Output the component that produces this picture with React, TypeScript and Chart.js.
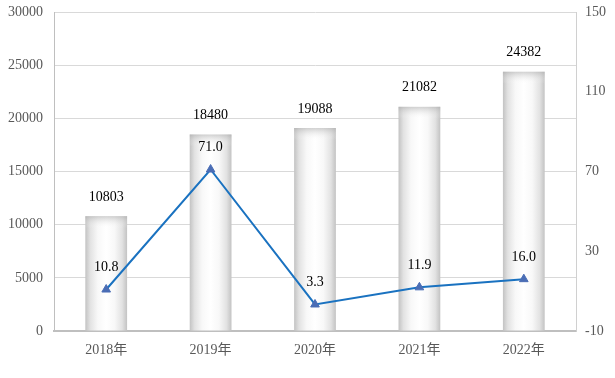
import React, { useEffect, useRef } from "react";
import { Chart, registerables } from "chart.js";

Chart.register(...registerables);

const categories = ["2018年", "2019年", "2020年", "2021年", "2022年"];
const barValues = [10803, 18480, 19088, 21082, 24382];
const lineValues = [10.8, 71.0, 3.3, 11.9, 16.0];
const barLabels = ["10803", "18480", "19088", "21082", "24382"];
const lineLabels = ["10.8", "71.0", "3.3", "11.9", "16.0"];

const FONT = "'Liberation Serif', 'Times New Roman', 'Noto Sans CJK SC', serif";

const labelPlugin = {
  id: "valueLabels",
  afterDatasetDraw(chart: any, args: any) {
    if (args.index !== 1) return;
    const ctx = chart.ctx;
    ctx.save();
    args.meta.data.forEach((el: any) => {
      const half = el.width / 2;
      const top = el.y;
      const g = ctx.createLinearGradient(0, top, 0, top + 12);
      g.addColorStop(0, "rgba(170,170,170,0.55)");
      g.addColorStop(1, "rgba(255,255,255,0)");
      ctx.fillStyle = g;
      ctx.fillRect(el.x - half, top, el.width, 12);
    });
    ctx.restore();
  },
  afterDatasetsDraw(chart: any) {
    const ctx = chart.ctx;
    ctx.save();
    ctx.font = `14px ${FONT}`;
    ctx.fillStyle = "#000000";
    ctx.textAlign = "center";
    ctx.textBaseline = "middle";
    const barMeta = chart.getDatasetMeta(1);
    barMeta.data.forEach((el: any, i: number) => {
      ctx.fillText(barLabels[i], el.x, el.y - 19);
    });
    const lineMeta = chart.getDatasetMeta(0);
    lineMeta.data.forEach((el: any, i: number) => {
      ctx.fillText(lineLabels[i], el.x, el.y - 22);
    });
    ctx.restore();
  },
};

export default function App() {
  const ref = useRef<HTMLCanvasElement>(null);
  useEffect(() => {
    document.body.style.margin = "0";
    const canvas = ref.current!;
    const barGradient = (context: any) => {
      const chart = context.chart;
      const xs = chart.scales?.x;
      if (!xs || context.dataIndex === undefined) return "#f0f0f0";
      const cx = xs.getPixelForValue(context.dataIndex);
      if (!Number.isFinite(cx)) return "#f0f0f0";
      const half = 21;
      const g = chart.ctx.createLinearGradient(cx - half, 0, cx + half, 0);
      g.addColorStop(0, "#c2c2c2");
      g.addColorStop(0.12, "#e2e2e2");
      g.addColorStop(0.3, "#f8f8f8");
      g.addColorStop(0.5, "#ffffff");
      g.addColorStop(0.7, "#f8f8f8");
      g.addColorStop(0.88, "#e2e2e2");
      g.addColorStop(1, "#c2c2c2");
      return g;
    };
    const zeroPad = (s: any, w: number) => {
      s.width = w;
      s.paddingTop = 0;
      s.paddingBottom = 0;
    };
    const chart = new Chart(canvas, {
      type: "bar",
      data: {
        labels: categories,
        datasets: [
          {
            type: "line",
            data: lineValues,
            yAxisID: "y1",
            borderColor: "#1a72c0",
            borderWidth: 2,
            pointStyle: "triangle",
            pointRadius: 5,
            pointBackgroundColor: "#4a6db5",
            pointBorderColor: "#4a6db5",
            pointBorderWidth: 1,
            tension: 0,
            order: 0,
          } as any,
          {
            type: "bar",
            data: barValues,
            yAxisID: "y",
            backgroundColor: barGradient,
            borderWidth: 0,
            barPercentage: 0.4,
            categoryPercentage: 1,
            order: 1,
          },
        ],
      },
      options: {
        responsive: false,
        animation: false,
        layout: { padding: { top: 12, left: 0, right: 0, bottom: 0 } },
        plugins: {
          legend: { display: false },
          tooltip: { enabled: false },
        },
        scales: {
          x: {
            grid: { display: false, drawTicks: false },
            border: { color: "#bfbfbf", width: 2 },
            ticks: {
              color: "#595959",
              font: { family: FONT, size: 14 },
              padding: 11,
            },
            afterFit: (s: any) => {
              s.height = 47;
              s.paddingLeft = 0;
              s.paddingRight = 0;
            },
          },
          y: {
            position: "left",
            min: 0,
            max: 30000,
            ticks: {
              stepSize: 5000,
              color: "#595959",
              font: { family: FONT, size: 14 },
              padding: 11,
              callback: (v: any) => String(v),
            },
            grid: { color: "#d9d9d9", drawTicks: false, lineWidth: 1 },
            border: { color: "#bfbfbf", width: 1 },
            afterFit: (s: any) => zeroPad(s, 54),
          },
          y1: {
            position: "right",
            min: -10,
            max: 150,
            ticks: {
              stepSize: 40,
              color: "#595959",
              font: { family: FONT, size: 14 },
              padding: 9,
              callback: (v: any) => String(v),
            },
            grid: { display: false, drawTicks: false },
            border: { color: "#d0d0d0", width: 1 },
            afterFit: (s: any) => zeroPad(s, 39),
          },
        },
      },
      plugins: [labelPlugin],
    });
    return () => chart.destroy();
  }, []);
  return <canvas ref={ref} width={615} height={378} style={{ display: "block" }} />;
}
